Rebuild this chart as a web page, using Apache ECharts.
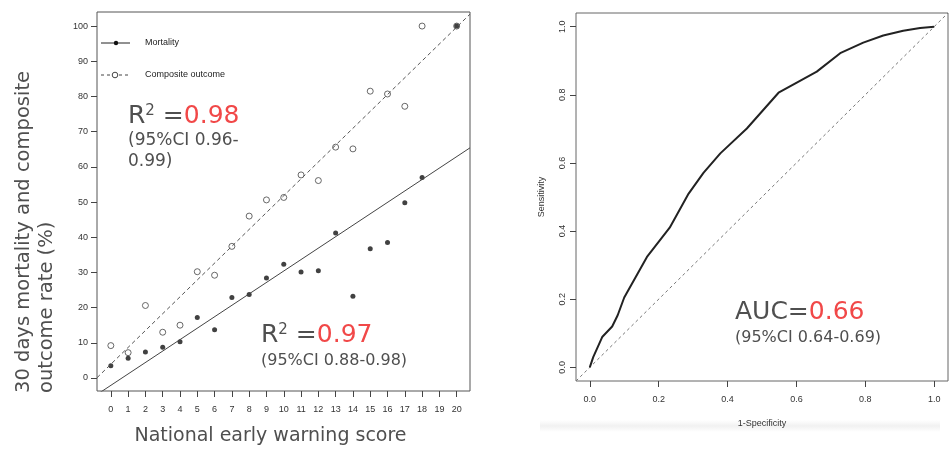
<!DOCTYPE html>
<html>
<head>
<meta charset="utf-8">
<script src="https://cdn.jsdelivr.net/npm/echarts@6/dist/echarts.min.js"></script>
<style>
  html, body { margin: 0; padding: 0; background: #fff; }
  #chart { width: 952px; height: 451px; }
</style>
</head>
<body>
<div id="chart"></div>
<script>
  // left panel: NEWS score vs 30 day outcome (%)
  const scores = [0, 1, 2, 3, 4, 5, 6, 7, 8, 9, 10, 11, 12, 13, 14, 15, 16, 17, 18, 19, 20]
  const mortality = [3.5, 5.6, 7.4, 8.7, 10.3, 17.2, 13.7, 22.9, 23.7, 28.4, 32.3, 30.1, 30.5, 41.2, 23.2, 36.7, 38.5, 49.8, 57.0, null, 100]
  const composite = [9.2, 7.2, 20.6, 13.0, 15.0, 30.2, 29.2, 37.4, 46.0, 50.6, 51.3, 57.7, 56.1, 65.6, 65.1, 81.5, 80.7, 77.2, 100, null, 100]
  // linear fits (intercept, slope)
  const mortalityFit = [-2.1, 3.25]
  const compositeFit = [3.9, 4.79]
  const percentTicks = [0, 10, 20, 30, 40, 50, 60, 70, 80, 90, 100]

  // right panel: ROC curve
  const fpr = [0, 0.01, 0.036, 0.065, 0.081, 0.10, 0.166, 0.232, 0.287, 0.330, 0.379, 0.456, 0.548, 0.601, 0.659, 0.727, 0.794, 0.852, 0.910, 0.959, 1.0]
  const sens = [0, 0.03, 0.089, 0.12, 0.153, 0.205, 0.324, 0.41, 0.510, 0.571, 0.628, 0.701, 0.806, 0.836, 0.868, 0.922, 0.953, 0.974, 0.988, 0.996, 1.0]
  const rocTicks = [0, 0.2, 0.4, 0.6, 0.8, 1.0]

  const xMinL = -0.8, xMaxL = 20.77
  const yMinL = -3.7, yMaxL = 104
  const minR = -0.04, maxR = 1.04

  const narrow = "'Liberation Sans Narrow', 'Liberation Sans', Arial, sans-serif"
  const sans = "'DejaVu Sans', Verdana, sans-serif"
  const grey = '#4f4f4f'
  const red = '#f14848'

  function pairs (xs, ys) {
    let out = []
    xs.forEach((x, i) => {
      if (ys[i] !== null) out.push([x, ys[i]])
    })
    return out
  }
  function fitLine (fit) {
    return [xMinL, xMaxL].map((x) => [x, fit[0] + fit[1] * x])
  }

  let chart = echarts.init(document.getElementById('chart'))

  let tickStyle = { show: true, length: 6, lineStyle: { color: '#444', width: 1 } }
  let noLine = { show: false, onZero: false }

  let options = {
    animation: false,
    grid: [
      { left: 97, top: 12, width: 373, height: 381, show: true, borderColor: '#555', borderWidth: 1, backgroundColor: 'transparent' },
      { left: 576, top: 13, width: 372, height: 368, show: true, borderColor: '#666', borderWidth: 1, backgroundColor: 'transparent' }
    ],
    xAxis: [
      {
        gridIndex: 0, type: 'value', min: xMinL, max: xMaxL,
        axisLine: noLine,
        axisTick: Object.assign({ customValues: scores }, tickStyle),
        axisLabel: { customValues: scores, fontSize: 9, color: '#333', fontFamily: narrow, margin: 14 },
        splitLine: { show: false },
        name: 'National early warning score', nameLocation: 'middle', nameGap: 36,
        nameTextStyle: { fontSize: 19, color: grey, fontFamily: sans, padding: [0, 26, 0, 0] }
      },
      {
        gridIndex: 1, type: 'value', min: minR, max: maxR,
        axisLine: noLine,
        axisTick: Object.assign({ customValues: rocTicks }, tickStyle),
        axisLabel: { customValues: rocTicks, fontSize: 9, color: '#333', fontFamily: narrow, margin: 14, formatter: (v) => v.toFixed(1) },
        splitLine: { show: false },
        name: '1-Specificity', nameLocation: 'middle', nameGap: 38,
        nameTextStyle: { fontSize: 9, color: '#333', fontFamily: narrow }
      }
    ],
    yAxis: [
      {
        gridIndex: 0, type: 'value', min: yMinL, max: yMaxL,
        axisLine: noLine,
        axisTick: Object.assign({ customValues: percentTicks }, tickStyle),
        axisLabel: { customValues: percentTicks, fontSize: 9, color: '#333', fontFamily: narrow, margin: 9 },
        splitLine: { show: false }
      },
      {
        gridIndex: 1, type: 'value', min: minR, max: maxR,
        axisLine: noLine,
        axisTick: Object.assign({ customValues: rocTicks }, tickStyle),
        axisLabel: { customValues: rocTicks, fontSize: 9, color: '#333', fontFamily: narrow, margin: 9, rotate: 90, formatter: (v) => v.toFixed(1) },
        splitLine: { show: false },
        name: 'Sensitivity', nameLocation: 'middle', nameGap: 30, nameRotate: 90,
        nameTextStyle: { fontSize: 9, color: '#333', fontFamily: narrow }
      }
    ],
    series: [
      {
        name: 'Composite fit', type: 'line', xAxisIndex: 0, yAxisIndex: 0,
        data: fitLine(compositeFit), showSymbol: false, clip: true,
        lineStyle: { color: '#555', width: 1, type: [4, 3] }
      },
      {
        name: 'Mortality fit', type: 'line', xAxisIndex: 0, yAxisIndex: 0,
        data: fitLine(mortalityFit), showSymbol: false, clip: true,
        lineStyle: { color: '#444', width: 1 }
      },
      {
        name: 'Composite outcome', type: 'scatter', xAxisIndex: 0, yAxisIndex: 0,
        data: pairs(scores, composite), symbol: 'circle', symbolSize: 6,
        itemStyle: { color: '#fff', borderColor: '#444', borderWidth: 1 }
      },
      {
        name: 'Mortality', type: 'scatter', xAxisIndex: 0, yAxisIndex: 0,
        data: pairs(scores, mortality), symbol: 'circle', symbolSize: 5,
        itemStyle: { color: '#111' }
      },
      {
        name: 'Reference', type: 'line', xAxisIndex: 1, yAxisIndex: 1,
        data: [[minR, minR], [maxR, maxR]], showSymbol: false, clip: true,
        lineStyle: { color: '#777', width: 1, type: [3, 3] }
      },
      {
        name: 'ROC', type: 'line', xAxisIndex: 1, yAxisIndex: 1,
        data: pairs(fpr, sens), showSymbol: false,
        lineStyle: { color: '#222', width: 2 }
      }
    ],
    graphic: [
      // faint band under the right panel
      {
        type: 'rect', shape: { x: 540, y: 420, width: 400, height: 12 }, z: -1,
        style: { fill: new echarts.graphic.LinearGradient(0, 0, 0, 1, [
          { offset: 0, color: '#ffffff' }, { offset: 0.5, color: '#f1f1f1' }, { offset: 1, color: '#ffffff' }]) }
      },
      // y axis title of left panel
      { type: 'text', x: 24, y: 393, rotation: Math.PI / 2,
        style: { text: '30 days mortality and composite', fontSize: 19.5, fontFamily: sans, fill: grey, align: 'left', verticalAlign: 'middle' } },
      { type: 'text', x: 47, y: 393, rotation: Math.PI / 2,
        style: { text: 'outcome rate (%)', fontSize: 19.5, fontFamily: sans, fill: grey, align: 'left', verticalAlign: 'middle' } },
      // legend
      { type: 'line', shape: { x1: 101, y1: 43, x2: 130, y2: 43 }, style: { stroke: '#222', lineWidth: 1 } },
      { type: 'circle', shape: { cx: 116, cy: 43, r: 2.2 }, style: { fill: '#111' } },
      { type: 'text', x: 145, y: 43, style: { text: 'Mortality', fontSize: 9, fontFamily: narrow, fill: '#222', verticalAlign: 'middle' } },
      { type: 'line', shape: { x1: 101, y1: 75, x2: 130, y2: 75 }, style: { stroke: '#444', lineWidth: 1, lineDash: [3, 3] } },
      { type: 'circle', shape: { cx: 115, cy: 75, r: 2.8 }, style: { fill: '#fff', stroke: '#444', lineWidth: 1 } },
      { type: 'text', x: 145, y: 75, style: { text: 'Composite outcome', fontSize: 9, fontFamily: narrow, fill: '#222', verticalAlign: 'middle' } },
      // annotations
      { type: 'text', x: 128, y: 116,
        style: { text: '{g|R}{s|2}{g| =}{r|0.98}', verticalAlign: 'middle',
          rich: { g: { fontSize: 25, fontFamily: sans, fill: grey }, s: { fontSize: 15, fontFamily: sans, fill: grey, verticalAlign: 'top' }, r: { fontSize: 25, fontFamily: sans, fill: red } } } },
      { type: 'text', x: 128, y: 141, style: { text: '(95%CI 0.96-', fontSize: 17, fontFamily: sans, fill: grey, verticalAlign: 'middle' } },
      { type: 'text', x: 128, y: 162, style: { text: '0.99)', fontSize: 17, fontFamily: sans, fill: grey, verticalAlign: 'middle' } },
      { type: 'text', x: 261, y: 335,
        style: { text: '{g|R}{s|2}{g| =}{r|0.97}', verticalAlign: 'middle',
          rich: { g: { fontSize: 25, fontFamily: sans, fill: grey }, s: { fontSize: 15, fontFamily: sans, fill: grey, verticalAlign: 'top' }, r: { fontSize: 25, fontFamily: sans, fill: red } } } },
      { type: 'text', x: 261, y: 361, style: { text: '(95%CI 0.88-0.98)', fontSize: 16, fontFamily: sans, fill: grey, verticalAlign: 'middle' } },
      { type: 'text', x: 735, y: 312,
        style: { text: '{g|AUC=}{r|0.66}', verticalAlign: 'middle',
          rich: { g: { fontSize: 25, fontFamily: sans, fill: grey }, r: { fontSize: 25, fontFamily: sans, fill: red } } } },
      { type: 'text', x: 735, y: 338, style: { text: '(95%CI 0.64-0.69)', fontSize: 16, fontFamily: sans, fill: grey, verticalAlign: 'middle' } }
    ]
  }
  chart.setOption(options)
</script>
</body>
</html>
